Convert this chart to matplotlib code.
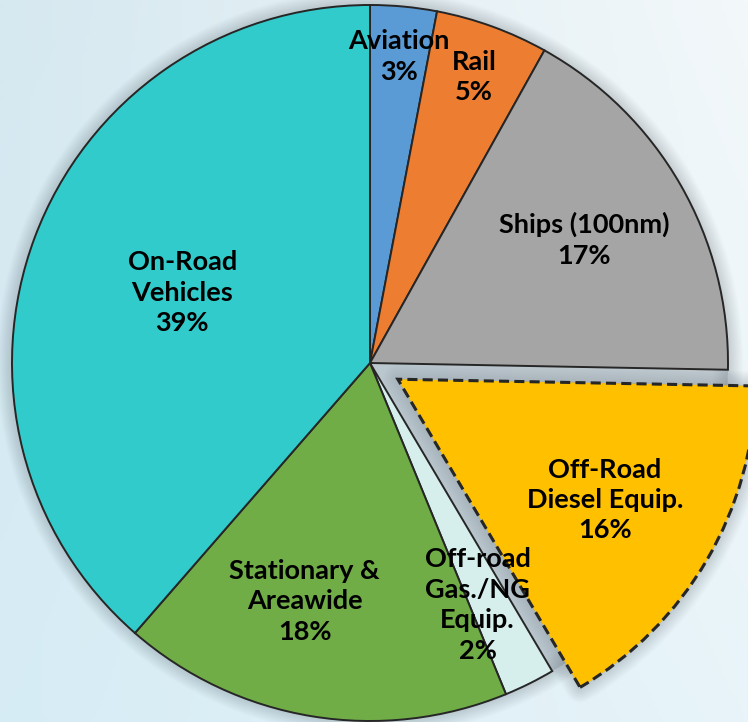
import numpy as np
import matplotlib.pyplot as plt
from matplotlib.patches import Circle, Wedge

# emission source shares (percent of total)
categories = ['Aviation', 'Rail', 'Ships (100nm)', 'Off-Road\nDiesel Equip.',
              'Off-road\nGas./NG\nEquip.', 'Stationary &\nAreawide', 'On-Road\nVehicles']
shares = [3.0, 5.1, 17.2, 16.2, 2.3, 17.6, 38.6]
pct_labels = ['3%', '5%', '17%', '16%', '2%', '18%', '39%']

colors = ['#5b9bd5', '#ed7d31', '#a5a5a5', '#ffc000', '#d6efec', '#70ad47', '#32cbcb']
explode_frac = [0, 0, 0, 0.09, 0, 0, 0]
label_dist = [0.86, 0.85, 0.69, 0.67, 0.74, 0.69, 0.56]
label_rot = [0, 0, 0, 0, -2.5, -6, 0]

W, H = 748, 722
cx, cy, R = 370, 359, 358

fig = plt.figure(figsize=(W / 100, H / 100), dpi=100)

# background gradient
bg = fig.add_axes([0, 0, 1, 1])
tl = np.array([214, 232, 240]); tr = np.array([243, 248, 250])
bl = np.array([214, 236, 245]); br = np.array([232, 244, 249])
u = np.linspace(0, 1, 200)[None, :, None]
v = np.linspace(0, 1, 200)[:, None, None]
img = (1 - v) * ((1 - u) * tl + u * tr) + v * ((1 - u) * bl + u * br)
bg.imshow(img / 255, extent=(0, W, 0, H), aspect='auto', origin='upper')
bg.axis('off')

ax = fig.add_axes([0, 0, 1, 1])
ax.set_facecolor('none')

explode = [e * R for e in explode_frac]
wedges, _ = ax.pie(shares, colors=colors, explode=explode, startangle=90,
                   counterclock=False, radius=R, center=(cx, cy),
                   wedgeprops=dict(edgecolor='#262626', linewidth=1.4))

# soft shadow behind the pie and the pulled-out slice
shadow = '#3c4650'
for k in range(1, 21):
    ax.add_patch(Circle((cx, cy), R, facecolor=shadow, edgecolor=shadow,
                        linewidth=k * 1.1, alpha=0.007, zorder=0.5))
    w = wedges[3]
    ax.add_patch(Wedge(w.center, w.r, w.theta1, w.theta2, facecolor=shadow,
                       edgecolor=shadow, linewidth=k * 1.1, alpha=0.008,
                       joinstyle='round', zorder=0.5))

wedges[3].set_linestyle((0, (3.3, 1.7)))
wedges[3].set_linewidth(2.2)

for w, name, pct, d, rot in zip(wedges, categories, pct_labels, label_dist, label_rot):
    th = np.deg2rad((w.theta1 + w.theta2) / 2 + rot)
    x = w.center[0] + d * R * np.cos(th)
    y = w.center[1] + d * R * np.sin(th)
    ax.text(x, y, name + '\n' + pct, ha='center', va='center', multialignment='center',
            fontsize=19.5, fontweight='bold', family='Lato', linespacing=1.32, color='black')

ax.set_xlim(0, W)
ax.set_ylim(0, H)
ax.axis('off')

fig.savefig('out.png', dpi=100)
